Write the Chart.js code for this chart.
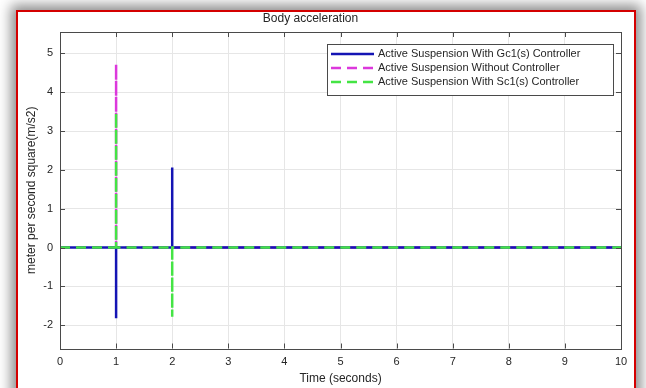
<!DOCTYPE html>
<html>
<head>
<meta charset="utf-8">
<script src="https://cdn.jsdelivr.net/npm/chart.js@4/dist/chart.umd.min.js"></script>
<style>
  body { margin: 0; background: #fff; width: 646px; height: 388px; overflow: hidden; position: relative; }
  #frame {
    position: absolute; left: 16px; top: 10px; width: 616px; height: 400px;
    border: 2px solid #d40000; background: #fff;
    box-shadow: 0 0 12px 5px rgba(0, 0, 0, 0.45);
  }
  #chart { position: absolute; left: 0; top: 0; z-index: 1; }
</style>
</head>
<body>
<div id="frame"></div>
<canvas id="chart" width="646" height="388"></canvas>
<script>
// Time samples and body acceleration for each run
var gcTime = [0, 1, 1, 1, 2, 2, 2, 10];
var gcAccel = [0, 0, -1.82, 0, 0, 2.06, 0, 0];

var noCtrlTime = [0, 1, 1, 1, 10];
var noCtrlAccel = [0, 0, 4.72, 0, 0];

var scTime = [0, 1, 1, 1, 2, 2, 2, 10];
var scAccel = [0, 0, 3.47, 0, 0, -1.78, 0, 0];

var xTicks = [0, 1, 2, 3, 4, 5, 6, 7, 8, 9, 10];
var yTicks = [-2, -1, 0, 1, 2, 3, 4, 5];

var seriesNames = [
  'Active Suspension With Gc1(s) Controller',
  'Active Suspension Without Controller',
  'Active Suspension With Sc1(s) Controller'
];

function toPoints(t, v) {
  return t.map(function (x, i) { return { x: x, y: v[i] }; });
}

var axisColor = '#4a4a4a';
var textColor = '#262626';

// MATLAB style box with inward ticks on all four sides
var boxPlugin = {
  id: 'box',
  afterDatasetsDraw: function (chart) {
    var ctx = chart.ctx, a = chart.chartArea;
    var xs = chart.scales.x, ys = chart.scales.y;
    var len = 5;
    ctx.save();
    ctx.strokeStyle = axisColor;
    ctx.lineWidth = 1;
    ctx.beginPath();
    xTicks.forEach(function (t) {
      var px = Math.round(xs.getPixelForValue(t)) + 0.5;
      ctx.moveTo(px, a.bottom); ctx.lineTo(px, a.bottom - len);
      ctx.moveTo(px, a.top); ctx.lineTo(px, a.top + len);
    });
    yTicks.forEach(function (t) {
      var py = Math.round(ys.getPixelForValue(t)) + 0.5;
      ctx.moveTo(a.left, py); ctx.lineTo(a.left + len, py);
      ctx.moveTo(a.right, py); ctx.lineTo(a.right - len, py);
    });
    ctx.stroke();
    ctx.strokeRect(Math.round(a.left) + 0.5, Math.round(a.top) + 0.5,
      Math.round(a.right - a.left), Math.round(a.bottom - a.top));
    ctx.restore();
  }
};

// legend box inside the axes, upper right
var legendPlugin = {
  id: 'insideLegend',
  afterDraw: function (chart) {
    var ctx = chart.ctx;
    var left = 327, top = 44, right = 613, bottom = 95;
    ctx.save();
    ctx.fillStyle = '#fff';
    ctx.fillRect(left, top, right - left, bottom - top);
    ctx.strokeStyle = axisColor;
    ctx.lineWidth = 1;
    ctx.strokeRect(left + 0.5, top + 0.5, right - left, bottom - top);
    ctx.font = '11px "Liberation Sans", Arial, sans-serif';
    ctx.textBaseline = 'middle';
    ctx.fillStyle = textColor;
    chart.data.datasets.forEach(function (ds, i) {
      var y = 54 + i * 14;
      ctx.strokeStyle = ds.borderColor;
      ctx.lineWidth = ds.borderWidth;
      ctx.setLineDash(ds.borderDash || []);
      ctx.beginPath();
      ctx.moveTo(331, y); ctx.lineTo(374, y);
      ctx.stroke();
      ctx.setLineDash([]);
      ctx.fillText(ds.label, 378, y);
    });
    ctx.restore();
  }
};

new Chart(document.getElementById('chart'), {
  type: 'line',
  data: {
    datasets: [
      {
        label: seriesNames[0],
        data: toPoints(gcTime, gcAccel),
        borderColor: '#1414b4',
        borderWidth: 2.5,
        order: 2
      },
      {
        label: seriesNames[1],
        data: toPoints(noCtrlTime, noCtrlAccel),
        borderColor: '#dc38dc',
        borderWidth: 2.5,
        borderDash: [10, 6],
        order: 3
      },
      {
        label: seriesNames[2],
        data: toPoints(scTime, scAccel),
        borderColor: '#44e444',
        borderWidth: 2.5,
        borderDash: [10, 6],
        order: 1
      }
    ]
  },
  options: {
    responsive: false,
    animation: false,
    layout: { padding: { left: 0, right: 25, top: 0, bottom: 0 } },
    elements: { point: { radius: 0 }, line: { tension: 0 } },
    plugins: {
      legend: { display: false },
      tooltip: { enabled: false },
      title: {
        display: true,
        text: 'Body acceleration',
        color: textColor,
        font: { family: '"Liberation Sans", Arial, sans-serif', size: 12, weight: 'normal' },
        padding: { top: 11, bottom: 6.6 }
      }
    },
    scales: {
      x: {
        type: 'linear',
        min: 0,
        max: 10,
        afterFit: function (s) { s.height = 39.5; },
        afterBuildTicks: function (s) { s.ticks = xTicks.map(function (v) { return { value: v }; }); },
        grid: { color: '#e6e6e6', drawTicks: false },
        border: { display: false },
        ticks: {
          color: textColor, padding: 7, maxRotation: 0, autoSkip: false,
          font: { family: '"Liberation Sans", Arial, sans-serif', size: 11 }
        },
        title: {
          display: true,
          text: 'Time (seconds)',
          color: textColor,
          font: { family: '"Liberation Sans", Arial, sans-serif', size: 12 },
          padding: { top: 0, bottom: 2 }
        }
      },
      y: {
        min: -2.6,
        max: 5.55,
        afterFit: function (s) { s.width = 60; },
        afterBuildTicks: function (s) { s.ticks = yTicks.map(function (v) { return { value: v }; }); },
        grid: { color: '#e6e6e6', drawTicks: false },
        border: { display: false },
        ticks: {
          color: textColor, padding: 7,
          font: { family: '"Liberation Sans", Arial, sans-serif', size: 11 }
        },
        title: {
          display: true,
          text: 'meter per second square(m/s2)',
          color: textColor,
          font: { family: '"Liberation Sans", Arial, sans-serif', size: 12 },
          padding: { top: 24, bottom: 0 }
        }
      }
    }
  },
  plugins: [boxPlugin, legendPlugin]
});
</script>
</body>
</html>
